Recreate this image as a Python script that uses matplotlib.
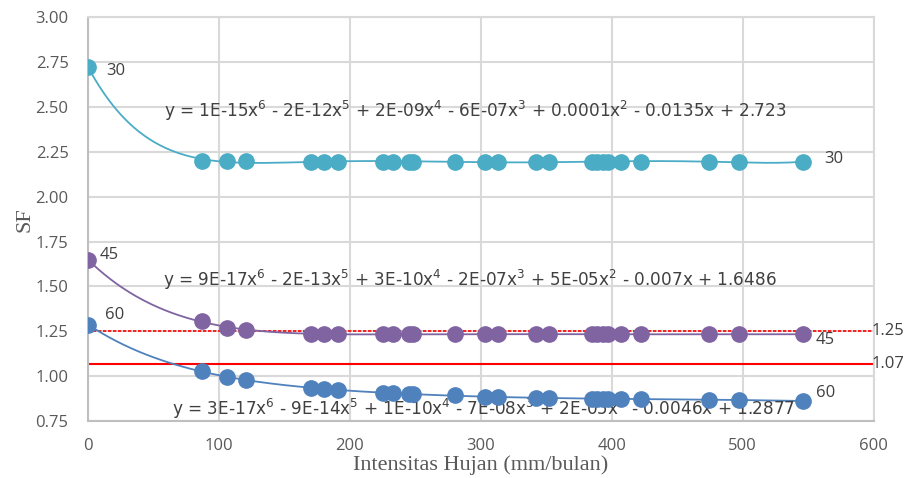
import matplotlib.pyplot as plt
import numpy as np

# intensitas hujan (mm/bulan)
x_hujan = [0, 87, 106, 121, 170, 180, 191, 225, 233, 245, 248, 280, 303, 313,
           342, 352, 385, 389, 393, 397, 407, 422, 474, 497, 546]

sf_30 = [2.723, 2.200, 2.198, 2.197, 2.196, 2.196, 2.196, 2.195, 2.195, 2.195, 2.195,
         2.195, 2.195, 2.195, 2.195, 2.195, 2.195, 2.195, 2.195, 2.195, 2.195, 2.195,
         2.195, 2.195, 2.194]
sf_45 = [1.649, 1.307, 1.270, 1.260, 1.236, 1.235, 1.235, 1.234, 1.234, 1.234, 1.234,
         1.234, 1.234, 1.234, 1.234, 1.234, 1.234, 1.234, 1.234, 1.234, 1.234, 1.234,
         1.234, 1.234, 1.234]
sf_60 = [1.288, 1.028, 0.995, 0.977, 0.937, 0.931, 0.925, 0.907, 0.906, 0.900, 0.899,
         0.894, 0.886, 0.884, 0.880, 0.879, 0.875, 0.875, 0.875, 0.875, 0.874, 0.873,
         0.869, 0.868, 0.862]

persamaan = {
    "30": r"y = 1E-15x$^6$ - 2E-12x$^5$ + 2E-09x$^4$ - 6E-07x$^3$ + 0.0001x$^2$ - 0.0135x + 2.723",
    "45": r"y = 9E-17x$^6$ - 2E-13x$^5$ + 3E-10x$^4$ - 2E-07x$^3$ + 5E-05x$^2$ - 0.007x + 1.6486",
    "60": r"y = 3E-17x$^6$ - 9E-14x$^5$ + 1E-10x$^4$ - 7E-08x$^3$ + 2E-05x$^2$ - 0.0046x + 1.2877",
}

sf_batas = [1.25, 1.07]

warna = {"30": "#4BACC6", "45": "#8064A2", "60": "#4F81BD"}
abu = "#595959"
teks = "#404040"

fig = plt.figure(figsize=(9.12, 4.78), dpi=100)
ax = fig.add_axes([0.0965, 0.119, 0.8615, 0.845])

xs = np.linspace(0, max(x_hujan), 400)
for nama, sf in [("30", sf_30), ("45", sf_45), ("60", sf_60)]:
    koef = np.polyfit(x_hujan, sf, 6)
    ax.plot(xs, np.polyval(koef, xs), color=warna[nama], lw=1.3, zorder=3)
    ax.plot(x_hujan, sf, linestyle="None", marker="o", ms=11, color=warna[nama], zorder=4)

ax.axhline(sf_batas[0], color="#FF0000", lw=1.2, ls=(0, (2, 1)), zorder=2)
ax.axhline(sf_batas[1], color="#FF0000", lw=1.5, zorder=2)

# label seri
fs = 12
lab = dict(color=teks, fontsize=fs, va="center", family="Open Sans")
ax.text(14, 2.70, "30", **lab)
ax.text(562, 2.21, "30", **lab)
ax.text(9, 1.675, "45", **lab)
ax.text(556, 1.20, "45", **lab)
ax.text(13, 1.34, "60", **lab)
ax.text(556, 0.906, "60", **lab)
ax.text(598, sf_batas[0], "1.25", **lab)
ax.text(598, sf_batas[1], "1.07", **lab)

eq = dict(color=teks, fontsize=12.2, va="center", family="DejaVu Sans")
ax.text(58, 2.48, persamaan["30"], **eq)
ax.text(57, 1.535, persamaan["45"], **eq)
ax.text(64, 0.82, persamaan["60"], **eq)

ax.set_xlim(0, 600)
ax.set_ylim(0.75, 3.00)
ax.set_xticks(range(0, 601, 100))
ax.set_yticks(np.arange(0.75, 3.01, 0.25))
ax.set_yticklabels(["%.2f" % v for v in np.arange(0.75, 3.01, 0.25)])
ax.grid(True, color="#D9D9D9", lw=1.5)
ax.set_axisbelow(True)
for nama_s, s in ax.spines.items():
    s.set_color("#BFBFBF" if nama_s in ("left", "bottom") else "#D9D9D9")
    s.set_linewidth(1.5)
ax.tick_params(axis="y", length=0, labelsize=12, colors=abu, pad=14)
ax.tick_params(axis="x", length=0, labelsize=12, colors=abu, pad=12)
for t in ax.get_xticklabels() + ax.get_yticklabels():
    t.set_family("Open Sans")

ax.set_xlabel("Intensitas Hujan (mm/bulan)", family="Liberation Serif", fontsize=16,
              color=abu, labelpad=1)
ax.set_ylabel("SF", family="Liberation Serif", fontsize=16, color=abu, labelpad=1)

fig.savefig("out.png", dpi=100)
